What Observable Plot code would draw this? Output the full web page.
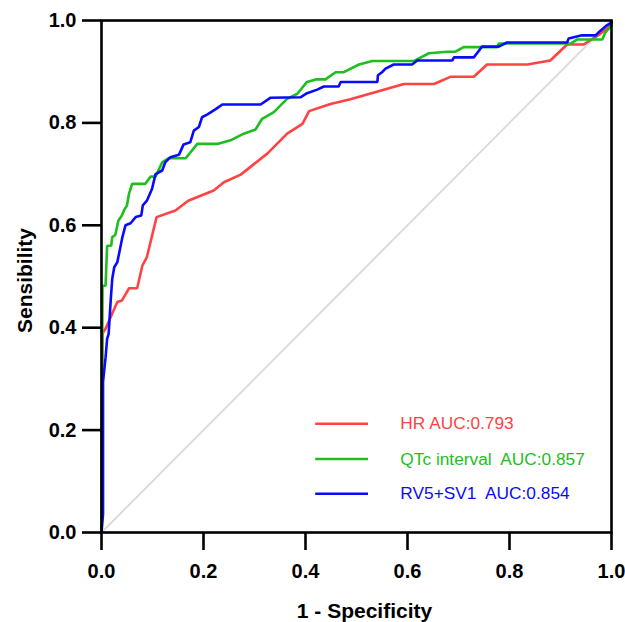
<!DOCTYPE html>
<html>
<head>
<meta charset="utf-8">
<script src="https://cdn.jsdelivr.net/npm/d3@7"></script>
<script src="https://cdn.jsdelivr.net/npm/@observablehq/plot@0.6"></script>
<style>
  html, body { margin: 0; padding: 0; background: #fff; }
  svg { font-family: "Liberation Sans", Arial, sans-serif; }
</style>
</head>
<body>
<div id="chart"></div>
<script>
// ---- data ----
const seriesNames = ["HR", "QTc interval", "RV5+SV1"];
const legendLabels = ["HR AUC:0.793", "QTc interval\u00a0 AUC:0.857", "RV5+SV1\u00a0 AUC:0.854"];
const seriesColors = ["#ff4242", "#1ebe1e", "#0a0aff"];

const hrX = [0,0,0.002,0.008,0.031,0.04,0.054,0.07,0.08,0.089,0.108,0.145,0.17,0.22,0.24,0.273,0.325,0.364,0.394,0.407,0.449,0.488,0.593,0.652,0.684,0.73,0.756,0.835,0.88,0.913,0.945,0.978,0.998,1];
const hrY = [0,0.15,0.389,0.398,0.45,0.453,0.477,0.477,0.521,0.538,0.616,0.629,0.648,0.668,0.684,0.699,0.74,0.779,0.798,0.823,0.837,0.846,0.876,0.876,0.89,0.89,0.914,0.914,0.922,0.953,0.953,0.974,0.99,1];

const qtX = [0,0.002,0.008,0.011,0.019,0.021,0.027,0.033,0.04,0.044,0.05,0.054,0.06,0.086,0.096,0.106,0.119,0.132,0.165,0.188,0.227,0.253,0.279,0.302,0.315,0.338,0.354,0.364,0.384,0.403,0.42,0.439,0.459,0.475,0.505,0.531,0.613,0.642,0.678,0.694,0.71,0.776,0.779,0.92,0.933,0.982,0.988,1,1];
const qtY = [0,0.482,0.482,0.56,0.56,0.577,0.581,0.609,0.619,0.629,0.639,0.662,0.681,0.681,0.695,0.695,0.723,0.731,0.731,0.759,0.759,0.766,0.779,0.787,0.808,0.821,0.837,0.847,0.857,0.88,0.885,0.885,0.899,0.899,0.914,0.921,0.921,0.936,0.939,0.939,0.948,0.948,0.955,0.955,0.963,0.963,0.977,0.99,1];

const rvX = [0,0.003,0.003,0.008,0.011,0.014,0.018,0.021,0.025,0.031,0.037,0.041,0.047,0.057,0.067,0.078,0.081,0.089,0.099,0.106,0.119,0.125,0.135,0.152,0.161,0.174,0.181,0.191,0.197,0.207,0.224,0.237,0.312,0.331,0.39,0.403,0.423,0.436,0.465,0.469,0.541,0.542,0.55,0.557,0.573,0.609,0.619,0.688,0.691,0.73,0.74,0.746,0.779,0.795,0.913,0.916,0.942,0.969,0.975,0.99,1,1];
const rvY = [0,0.036,0.294,0.342,0.378,0.388,0.453,0.495,0.518,0.528,0.557,0.577,0.6,0.604,0.616,0.619,0.639,0.648,0.671,0.7,0.707,0.723,0.733,0.738,0.758,0.762,0.785,0.792,0.811,0.816,0.827,0.836,0.836,0.849,0.85,0.858,0.865,0.871,0.871,0.88,0.88,0.893,0.899,0.906,0.914,0.914,0.922,0.922,0.928,0.928,0.941,0.949,0.949,0.957,0.957,0.965,0.971,0.971,0.977,0.99,0.996,1];

const tickValues = [0, 0.2, 0.4, 0.6, 0.8, 1.0];
const xTitle = "1 - Specificity";
const yTitle = "Sensibility";

// ---- build tables ----
const allX = [hrX, qtX, rvX];
const allY = [hrY, qtY, rvY];
const rows = [];
seriesNames.forEach((name, i) => {
  allX[i].forEach((x, j) => rows.push({series: name, x, y: allY[i][j]}));
});

// legend layout (in data units of the plot)
const legendLayout = { x1: 0.42, x2: 0.5235, textX: 0.586, ys: [0.2123, 0.1435, 0.0756] };
const legendRows = seriesNames.map((s, i) => ({
  series: s, label: legendLabels[i], color: seriesColors[i], y: legendLayout.ys[i]
}));

const fmt = d3.format(".1f");

const chart = Plot.plot({
  width: 625,
  height: 622,
  marginLeft: 101,
  marginRight: 14,
  marginTop: 20,
  marginBottom: 90,
  style: { fontFamily: "'Liberation Sans', Arial, sans-serif", background: "#fff" },
  x: { domain: [0, 1] },
  y: { domain: [0, 1] },
  marks: [
    // diagonal reference line
    Plot.line([{x: 0, y: 0}, {x: 1, y: 1}], { x: "x", y: "y", stroke: "#dcdcdc", strokeWidth: 2 }),
    // ROC curves
    ...seriesNames.map((s, i) =>
      Plot.line(rows.filter(r => r.series === s), {
        x: "x", y: "y", stroke: seriesColors[i], strokeWidth: 2.6, strokeLinejoin: "miter", strokeLinecap: "butt"
      })
    ),
    // frame
    Plot.frame({ stroke: "#000", strokeWidth: 2.6 }),
    // axes
    Plot.axisX({
      ticks: tickValues, tickFormat: fmt, tickSize: 18, tickPadding: 13,
      strokeWidth: 2.6, fontSize: 20, fontWeight: "bold", fill: "#000", label: null
    }),
    Plot.axisY({
      ticks: tickValues, tickFormat: fmt, tickSize: 19, tickPadding: 6,
      strokeWidth: 2.6, fontSize: 20, fontWeight: "bold", fill: "#000", label: null
    }),
    // axis titles
    Plot.text([xTitle], {
      frameAnchor: "bottom", dx: 8, dy: 79, text: d => d,
      fontSize: 21, fontWeight: "bold", fill: "#000", textAnchor: "middle", lineAnchor: "middle"
    }),
    Plot.text([yTitle], {
      frameAnchor: "left", dx: -76, dy: 4, rotate: -90, text: d => d,
      fontSize: 21, fontWeight: "bold", fill: "#000", textAnchor: "middle", lineAnchor: "middle"
    }),
    // legend (inside the plot area)
    Plot.ruleY(legendRows, {
      y: "y", x1: legendLayout.x1, x2: legendLayout.x2, stroke: "color", strokeWidth: 2.6
    }),
    Plot.text(legendRows, {
      x: legendLayout.textX, y: "y", text: "label", fill: "color",
      fontSize: 17.3, textAnchor: "start", lineAnchor: "middle"
    })
  ]
});

document.getElementById("chart").appendChild(chart);
</script>
</body>
</html>
